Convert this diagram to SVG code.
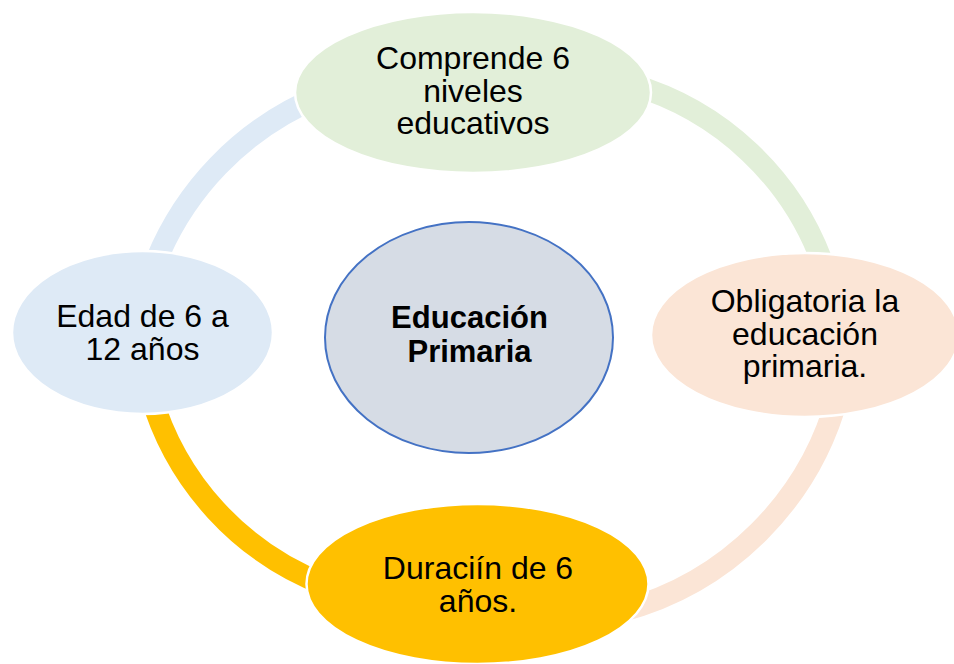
<svg xmlns="http://www.w3.org/2000/svg" width="954" height="664" viewBox="0 0 954 664">
  <style>
    .arc { fill: none; stroke-width: 22; }
    .node { stroke: #FFFFFF; stroke-width: 2.5; }
    .lbl { font-family: "Liberation Sans", Arial, sans-serif; font-size: 32px; fill: #000000; text-anchor: middle; }
    .ctr { font-family: "Liberation Sans", Arial, sans-serif; font-size: 31px; font-weight: bold; fill: #000000; text-anchor: middle; }
  </style>
  <rect x="0" y="0" width="954" height="664" fill="#FFFFFF"/>
  <g id="connectors">
    <path class="arc" stroke="#DEEAF6" d="M 152.1 271.4 A 300 300 0 0 1 321.6 95.8"/>
    <path class="arc" stroke="#E2EFD9" d="M 630.1 84.0 A 290 290 0 0 1 824.4 268.4"/>
    <path class="arc" stroke="#FBE5D6" d="M 838 395.1 A 305 305 0 0 1 622.3 610.8"/>
    <path class="arc" stroke="#FFC000" d="M 325.6 585 A 290 290 0 0 1 150.7 394.2"/>
  </g>
  <g id="node-center">
    <ellipse cx="469" cy="337.5" rx="144" ry="115.5" fill="#D6DCE5" stroke="#4472C4" stroke-width="2"/>
    <text class="ctr" x="469.5" y="328.3">Educación</text>
    <text class="ctr" x="469.5" y="361.7">Primaria</text>
  </g>
  <g id="node-top">
    <ellipse class="node" cx="473" cy="92.5" rx="178" ry="80.5" fill="#E2EFD9"/>
    <text class="lbl" x="473" y="69.3">Comprende 6</text>
    <text class="lbl" x="473" y="101.7">niveles</text>
    <text class="lbl" x="473" y="134">educativos</text>
  </g>
  <g id="node-right">
    <ellipse class="node" cx="805" cy="335" rx="154" ry="82" fill="#FBE5D6"/>
    <text class="lbl" x="805" y="311.7">Obligatoria la</text>
    <text class="lbl" x="805" y="344.5">educación</text>
    <text class="lbl" x="805" y="376.7">primaria.</text>
  </g>
  <g id="node-bottom">
    <ellipse class="node" cx="477.5" cy="584" rx="171" ry="80" fill="#FFC000"/>
    <text class="lbl" x="478" y="579.3">Duraciín de 6</text>
    <text class="lbl" x="478" y="611.7">años.</text>
  </g>
  <g id="node-left">
    <ellipse class="node" cx="142.5" cy="332.5" rx="130.5" ry="81.5" fill="#DEEAF6"/>
    <text class="lbl" x="142.5" y="326.7">Edad de 6 a</text>
    <text class="lbl" x="142.5" y="359.5">12 años</text>
  </g>
</svg>
